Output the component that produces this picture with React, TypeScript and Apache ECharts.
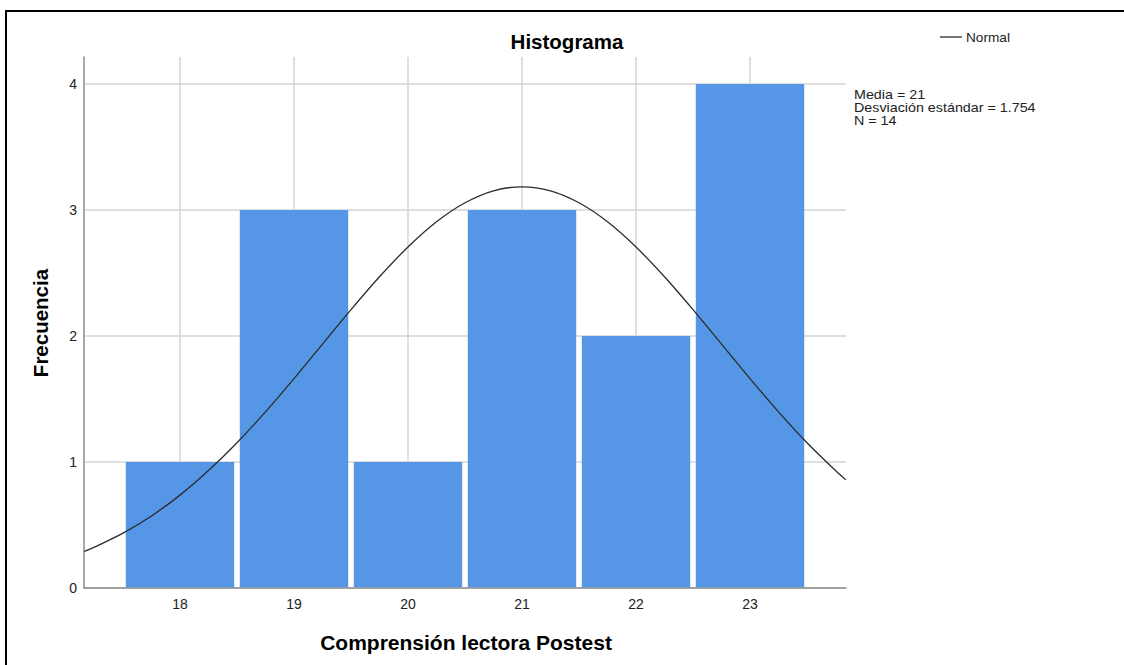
import React, { useEffect, useRef } from "react";
import * as echarts from "echarts";

const categories = [18, 19, 20, 21, 22, 23];
const frequencies = [1, 3, 1, 3, 2, 4];
const yTicks = [0, 1, 2, 3, 4];
const normalX = [17.16, 17.25, 17.5, 17.75, 18, 18.25, 18.5, 18.75, 19, 19.25, 19.5, 19.75, 20, 20.25, 20.5, 20.75, 21, 21.25, 21.5, 21.75, 22, 22.25, 22.5, 22.75, 23, 23.25, 23.5, 23.75, 23.84];
const normalY = [0.29, 0.324, 0.435, 0.572, 0.737, 0.932, 1.153, 1.398, 1.662, 1.936, 2.209, 2.47, 2.706, 2.906, 3.057, 3.152, 3.184, 3.152, 3.057, 2.906, 2.706, 2.47, 2.209, 1.936, 1.662, 1.398, 1.153, 0.932, 0.858];
const statsLines = ["Media = 21", "Desviación estándar = 1.754", "N = 14"];

const FONT = "'Liberation Sans', Arial, sans-serif";

export default function App() {
  const ref = useRef<HTMLDivElement>(null);
  useEffect(() => {
    if (!ref.current) return;
    const chart = echarts.init(ref.current, null, { renderer: "svg" });
    const barData = categories.map((c, i) => [c, frequencies[i]]);
    const lineData = normalX.map((x, i) => [x, normalY[i]]);
    chart.setOption({
      animation: false,
      backgroundColor: "#ffffff",
      grid: { left: 84, right: 278, top: 57, bottom: 77, containLabel: false },
      xAxis: {
        type: "value",
        min: 17.158,
        max: 23.842,
        axisLine: { show: true, lineStyle: { color: "#8c8c8c", width: 1.5 } },
        axisTick: { show: false, customValues: categories },
        axisLabel: {
          customValues: categories,
          color: "#222",
          fontFamily: FONT,
          fontSize: 14,
          margin: 9,
        },
        splitLine: { show: true, lineStyle: { color: "#d4d4d4", width: 1.5 } },
      },
      yAxis: {
        type: "value",
        min: 0,
        max: 4.214,
        axisLine: { show: true, lineStyle: { color: "#8c8c8c", width: 1.5 } },
        axisTick: { show: false, customValues: yTicks },
        axisLabel: {
          customValues: yTicks,
          color: "#222",
          fontFamily: FONT,
          fontSize: 14,
          margin: 7,
        },
        splitLine: { show: true, lineStyle: { color: "#d4d4d4", width: 1.5 } },
      },
      series: [
        {
          type: "custom",
          z: 2,
          data: barData,
          renderItem: (params: any, api: any) => {
            const x = api.value(0);
            const y = api.value(1);
            const p0 = api.coord([x - 0.5, y]);
            const p1 = api.coord([x + 0.5, 0]);
            const inset = 2.8;
            return {
              type: "rect",
              shape: {
                x: p0[0] + inset,
                y: p0[1],
                width: p1[0] - p0[0] - inset * 2,
                height: p1[1] - p0[1] - 0.75,
              },
              style: { fill: "#5596e6" },
            };
          },
        },
        {
          type: "line",
          z: 3,
          data: lineData,
          smooth: 0.3,
          showSymbol: false,
          symbol: "none",
          lineStyle: { color: "#2b2b2b", width: 1.3 },
        },
      ],
      graphic: [
        { type: "line", shape: { x1: 6, y1: 11, x2: 1124, y2: 11 }, style: { stroke: "#000", lineWidth: 2 } },
        { type: "line", shape: { x1: 6, y1: 10, x2: 6, y2: 665 }, style: { stroke: "#000", lineWidth: 2 } },
        {
          type: "text",
          x: 567,
          y: 41,
          style: { text: "Histograma", font: `bold 20.5px ${FONT}`, fill: "#000", align: "center", verticalAlign: "middle" },
        },
        {
          type: "text",
          x: 466,
          y: 642,
          style: { text: "Comprensión lectora Postest", font: `bold 21px ${FONT}`, fill: "#000", align: "center", verticalAlign: "middle" },
        },
        {
          type: "text",
          x: 40,
          y: 323,
          rotation: Math.PI / 2,
          style: { text: "Frecuencia", font: `bold 20.5px ${FONT}`, fill: "#000", align: "center", verticalAlign: "middle" },
        },
        { type: "line", shape: { x1: 940, y1: 37, x2: 962, y2: 37 }, style: { stroke: "#2b2b2b", lineWidth: 1.3 } },
        {
          type: "text",
          x: 966,
          y: 38,
          scaleX: 1.05,
          style: { text: "Normal", font: `13px ${FONT}`, fill: "#222", align: "left", verticalAlign: "middle" },
        },
        ...statsLines.map((t, i) => ({
          type: "text",
          x: 854,
          y: 94.5 + i * 13.25,
          scaleX: 1.1,
          style: { text: t, font: `13px ${FONT}`, fill: "#222", align: "left", verticalAlign: "middle" },
        })),
      ],
    });
    return () => chart.dispose();
  }, []);
  return <div ref={ref} style={{ position: "fixed", left: 0, top: 0, width: 1124, height: 665 }} />;
}
